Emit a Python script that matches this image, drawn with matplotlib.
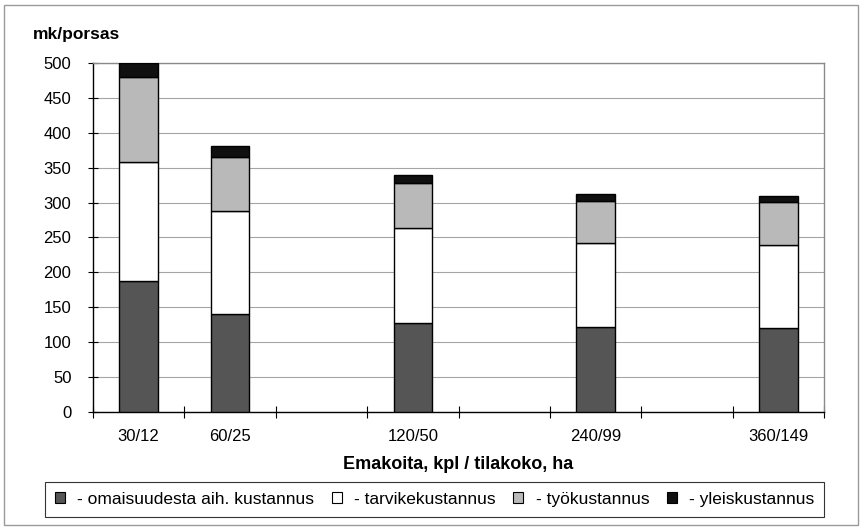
import numpy as np
import matplotlib
matplotlib.use("Agg")
import matplotlib.pyplot as plt
from matplotlib.patches import Rectangle, Patch

plt.rcParams['font.family'] = ['Liberation Sans', 'DejaVu Sans']

# 8 slots on the axis, only five farm sizes carry data
slot_labels = ["30/12", "60/25", "", "120/50", "", "240/99", "", "360/149"]
bar_slots = [0, 1, 3, 5, 7]

# cost components, mk per piglet
omaisuus = [187, 141, 127, 122, 121]
tarvike = [171, 147, 137, 120, 118]
tyo = [122, 78, 64, 61, 62]
yleis = [20, 15, 12, 10, 9]

series_names = ["- omaisuudesta aih. kustannus", "- tarvikekustannus",
                "- työkustannus", "- yleiskustannus"]
series_colors = ["#555555", "#ffffff", "#b9b9b9", "#101010"]

fig = plt.figure(figsize=(8.61, 5.27), dpi=100)
ax = fig.add_axes([93 / 861, 1 - 412 / 527, 731 / 861, 349 / 527])

bottom = np.zeros(len(bar_slots))
for vals, col in zip([omaisuus, tarvike, tyo, yleis], series_colors):
    ax.bar(bar_slots, vals, width=0.42, bottom=bottom, color=col,
           edgecolor="black", linewidth=1.0, zorder=3)
    bottom += np.array(vals)

ax.set_xlim(-0.5, 7.5)
ax.set_ylim(0, 500)
ax.set_yticks(np.arange(0, 501, 50))
ax.tick_params(axis="y", labelsize=12, direction="inout", length=7, width=0.8, pad=12)
ax.yaxis.grid(True, color="#a5a5a5", linewidth=0.8, zorder=0)

ax.set_xticks(range(len(slot_labels)))
ax.set_xticklabels(slot_labels)
ax.set_xticks(np.arange(-0.5, 8, 1), minor=True)
ax.tick_params(axis="x", which="major", length=0, labelsize=12, pad=12)
ax.tick_params(axis="x", which="minor", direction="inout", length=8, width=0.8)

for side in ["left", "bottom"]:
    ax.spines[side].set_color("black")
    ax.spines[side].set_linewidth(1.0)
for side in ["top", "right"]:
    ax.spines[side].set_color("#8a8a8a")
    ax.spines[side].set_linewidth(1.0)

ax.set_xlabel("Emakoita, kpl / tilakoko, ha", fontsize=13, fontweight="bold", labelpad=9)
fig.text(33 / 861, 1 - 35 / 527, "mk/porsas", fontsize=12.5, fontweight="bold",
         va="center", ha="left")

handles = [Patch(facecolor=c, edgecolor="black", linewidth=0.8) for c in series_colors]
leg = fig.legend(handles, series_names, loc="center",
                 bbox_to_anchor=(434.5 / 861, 1 - 499.5 / 527), ncol=4,
                 fontsize=12.5, frameon=True, fancybox=False,
                 handlelength=0.6, handleheight=0.6, handletextpad=0.7,
                 columnspacing=1.0, borderpad=0.55, borderaxespad=0)
leg.get_frame().set_edgecolor("black")
leg.get_frame().set_linewidth(0.8)

# outer chart frame
fig.patches.append(Rectangle((4 / 861, 2 / 527), 854 / 861, 520 / 527,
                             transform=fig.transFigure, fill=False,
                             edgecolor="#9a9a9a", linewidth=1.0))

fig.savefig("out.png", dpi=100)
